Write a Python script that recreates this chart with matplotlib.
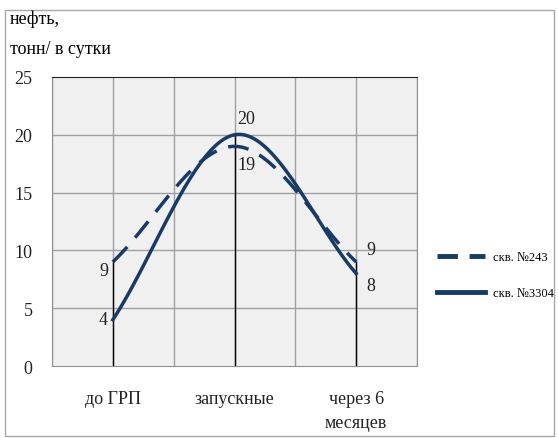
import numpy as np
import matplotlib.pyplot as plt
from matplotlib.patches import Rectangle

plt.rcParams['font.family'] = ['Liberation Serif', 'DejaVu Serif']

# ---------------------------------------------------------
# data
# ---------------------------------------------------------
categories = ["до ГРП", "запускные", "через 6\nмесяцев"]
skv_243 = [9, 19, 9]
skv_3304 = [4, 20, 8]
series_names = ["скв. №243", "скв. №3304"]

LINE_COLOR = "#173a66"


def smooth(y, n=60):
    # Catmull-Rom spline through the points (like a "smoothed line" chart)
    y = np.asarray(y, dtype=float)
    x = np.arange(len(y), dtype=float)
    px = np.concatenate([[2 * x[0] - x[1]], x, [2 * x[-1] - x[-2]]])
    py = np.concatenate([[2 * y[0] - y[1]], y, [2 * y[-1] - y[-2]]])
    xs, ys = [], []
    for i in range(1, len(px) - 2):
        t = np.linspace(0, 1, n)
        for arr, out in ((px, xs), (py, ys)):
            p0, p1, p2, p3 = arr[i - 1], arr[i], arr[i + 1], arr[i + 2]
            out.append(0.5 * (2 * p1 + (-p0 + p2) * t
                              + (2 * p0 - 5 * p1 + 4 * p2 - p3) * t ** 2
                              + (-p0 + 3 * p1 - 3 * p2 + p3) * t ** 3))
    return np.concatenate(xs), np.concatenate(ys)


fig = plt.figure(figsize=(5.58, 4.39), dpi=100)
ax = fig.add_axes([52 / 558, 1 - 367 / 439, 365 / 558, 289 / 439])
ax.set_facecolor("#f0f0f0")

# frame around the whole picture
fig.patches.append(Rectangle((5 / 558, 2 / 439), 549 / 558, 426 / 439,
                             transform=fig.transFigure, fill=False,
                             edgecolor="#a8a8a8", linewidth=1.0))

ax.set_xlim(-0.5, 2.5)
ax.set_ylim(0, 25)
ax.set_yticks(np.arange(0, 26, 5))
ax.set_xticks(range(len(categories)))
ax.set_xticklabels(categories, fontsize=13, linespacing=1.55)
ax.tick_params(axis="both", length=0, labelsize=13, colors="#222222")
ax.tick_params(axis="x", pad=17)
ax.tick_params(axis="y", pad=14)

for yv in np.arange(5, 25, 5):
    ax.axhline(yv, color="#a0a0a0", linewidth=1.0, zorder=1)
for xv in np.arange(-0.5, 2.6, 0.5):
    ax.axvline(xv, color="#a0a0a0", linewidth=1.0, zorder=1)

for side in ("left", "bottom", "right"):
    ax.spines[side].set_color("#909090")
ax.spines["top"].set_color("#202020")

# drop lines from the highest point of each category
for i in range(len(categories)):
    top = max(skv_243[i], skv_3304[i])
    ax.plot([i, i], [0, top], color="black", linewidth=1.0, zorder=2)

xs, ys = smooth(skv_243)
ax.plot(xs, ys, color=LINE_COLOR, linewidth=2.5, dashes=(6, 3.5),
        label=series_names[0], zorder=3)
xs, ys = smooth(skv_3304)
ax.plot(xs, ys, color=LINE_COLOR, linewidth=2.5,
        label=series_names[1], zorder=3)

# value labels
lab = dict(fontsize=13, color="#222222", zorder=4)
ax.text(-0.04, skv_243[0], str(skv_243[0]), ha="right", va="top", **lab)
ax.text(-0.04, skv_3304[0], str(skv_3304[0]), ha="right", va="center", **lab)
ax.text(1.1, skv_3304[1] + 0.7, str(skv_3304[1]), ha="center", va="bottom", **lab)
ax.text(1.1, skv_243[1] - 0.8, str(skv_243[1]), ha="center", va="top", **lab)
ax.text(2.08, skv_243[2] + 0.3, str(skv_243[2]), ha="left", va="bottom", **lab)
ax.text(2.08, skv_3304[2] - 0.3, str(skv_3304[2]), ha="left", va="top", **lab)

fig.text(10 / 558, 1 - 19 / 439, "нефть,", fontsize=13, va="center")
fig.text(10 / 558, 1 - 50 / 439, "тонн/ в сутки", fontsize=13, va="center")

leg = fig.legend(loc="upper left", bbox_to_anchor=(426 / 558, 1 - 241 / 439),
                 frameon=False, fontsize=9, handlelength=3.85,
                 handletextpad=0.6, labelspacing=1.9)
for h in leg.get_lines():
    h.set_linewidth(3.5)
leg.get_lines()[0].set_dashes((4.2, 2.4))

fig.savefig("out.png", dpi=100)
